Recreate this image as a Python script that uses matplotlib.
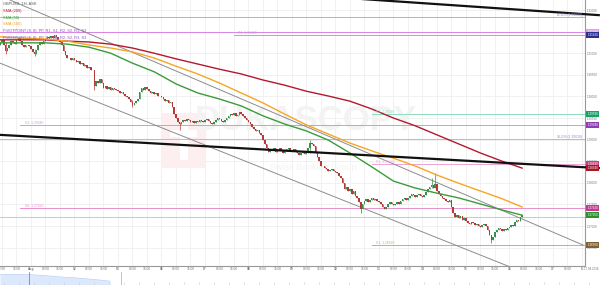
import matplotlib
matplotlib.use("Agg")
import matplotlib.pyplot as plt
import matplotlib.transforms as mtransforms
from matplotlib.patches import Rectangle
import numpy as np

# ---------------- data ----------------
start_bar = -17          # bar 0 = 01 Aug 00:00, 1 bar = 1 hour
first_open = 1.3120
closes = [
    # 31 Jul 07h-23h
    1.3125, 1.3130, 1.3118, 1.3105, 1.3112, 1.3120, 1.3128, 1.3125, 1.3122,
    1.3130, 1.3135, 1.3128, 1.3120, 1.3115, 1.3118, 1.3120, 1.3116,
    # 01 Aug
    1.3110, 1.3102, 1.3098, 1.3108, 1.3118, 1.3125, 1.3122, 1.3128, 1.3132, 1.3138,
    1.3135, 1.3140, 1.3136, 1.3142, 1.3138, 1.3130, 1.3125, 1.3118, 1.3105, 1.3095,
    1.3088, 1.3090, 1.3085, 1.3088,
    # 02 Aug
    1.3085, 1.3080, 1.3082, 1.3075, 1.3078, 1.3070, 1.3072, 1.3065, 1.3068, 1.3062,
    1.3060, 1.3025, 1.3035, 1.3030, 1.3040, 1.3030, 1.3020, 1.3025, 1.3018, 1.3022,
    1.3015, 1.3020, 1.3018, 1.3015,
    # 03 Aug
    1.3012, 1.3008, 1.3010, 1.3005, 1.3000, 1.2998, 1.2995, 1.2988, 1.2980, 1.2985,
    1.2990, 1.2995, 1.3010, 1.3020, 1.3015, 1.3022, 1.3018, 1.3012, 1.3008, 1.3010,
    1.3005, 1.3008, 1.3002, 1.3000,
    # 06 Aug
    1.2998, 1.2995, 1.2990, 1.2992, 1.2985, 1.2988, 1.2975, 1.2960, 1.2950, 1.2940,
    1.2935, 1.2940, 1.2945, 1.2942, 1.2948, 1.2945, 1.2940, 1.2943, 1.2938, 1.2942,
    1.2940, 1.2945, 1.2942, 1.2940,
    # 07 Aug
    1.2945, 1.2948, 1.2942, 1.2938, 1.2935, 1.2940, 1.2945, 1.2950, 1.2948, 1.2944,
    1.2940, 1.2945, 1.2950, 1.2955, 1.2960, 1.2958, 1.2962, 1.2955, 1.2958, 1.2965,
    1.2960, 1.2955, 1.2950, 1.2945,
    # 08 Aug
    1.2940, 1.2935, 1.2930, 1.2925, 1.2920, 1.2922, 1.2915, 1.2910, 1.2900, 1.2890,
    1.2880, 1.2872, 1.2878, 1.2875, 1.2880, 1.2872, 1.2876, 1.2880, 1.2875, 1.2870,
    1.2874, 1.2878, 1.2880, 1.2876,
    # 09 Aug
    1.2875, 1.2878, 1.2872, 1.2868, 1.2865, 1.2868, 1.2872, 1.2866, 1.2870, 1.2880,
    1.2892, 1.2890, 1.2885, 1.2870, 1.2860, 1.2850, 1.2840, 1.2838, 1.2835, 1.2832,
    1.2828, 1.2830, 1.2832, 1.2828,
    # 10 Aug
    1.2825, 1.2822, 1.2815, 1.2810, 1.2800, 1.2785, 1.2790, 1.2780, 1.2785, 1.2775,
    1.2780, 1.2770, 1.2765, 1.2755, 1.2740, 1.2750, 1.2758, 1.2762, 1.2755, 1.2760,
    1.2765, 1.2760, 1.2762, 1.2758,
    # 13 Aug
    1.2755, 1.2750, 1.2745, 1.2740, 1.2745, 1.2750, 1.2755, 1.2752, 1.2748, 1.2750,
    1.2755, 1.2752, 1.2758, 1.2762, 1.2765, 1.2760, 1.2765, 1.2770, 1.2775, 1.2772,
    1.2768, 1.2772, 1.2775, 1.2770,
    # 14 Aug
    1.2768, 1.2772, 1.2778, 1.2785, 1.2790, 1.2795, 1.2788, 1.2798, 1.2780, 1.2775,
    1.2770, 1.2765, 1.2762, 1.2758, 1.2755, 1.2760, 1.2745, 1.2730, 1.2720, 1.2725,
    1.2718, 1.2722, 1.2715, 1.2718,
    # 15 Aug
    1.2712, 1.2708, 1.2705, 1.2710, 1.2706, 1.2702, 1.2705, 1.2700, 1.2698, 1.2702,
    1.2705, 1.2700, 1.2690, 1.2680, 1.2668, 1.2675, 1.2685, 1.2690, 1.2695, 1.2692,
    1.2688, 1.2692, 1.2690, 1.2695,
    # 16 Aug
    1.2698, 1.2702, 1.2700, 1.2710, 1.2715, 1.2712, 1.2720, 1.2725,
]
# notable wicks: bar -> (high, low)
wick_extremes = {
    -14: (1.3125, 1.3098), 2: (1.3110, 1.3094), 35: (1.3062, 1.3015),
    56: (1.2992, 1.2975), 82: (1.2940, 1.2922), 154: (1.2900, 1.2868),
    182: (1.2755, 1.2730), 221: (1.2810, 1.2788), 223: (1.2822, 1.2788),
    254: (1.2680, 1.2660),
}

sma_bars = [-17, -5, 8, 20, 32, 44, 56, 68, 80, 92, 104, 116, 128, 140, 152,
            164, 176, 188, 200, 212, 224, 236, 248, 260, 271]
sma200 = [1.3131, 1.3131, 1.3131, 1.3128, 1.3126, 1.3121, 1.3112, 1.3100,
          1.3087, 1.3075, 1.3063, 1.3052, 1.3038, 1.3026, 1.3012, 1.3001,
          1.2989, 1.2971, 1.2950, 1.2932, 1.2911, 1.2890, 1.2869, 1.2850, 1.2834]
sma100 = [1.3138, 1.3135, 1.3133, 1.3128, 1.3119, 1.3112, 1.3103, 1.3089,
          1.3070, 1.3052, 1.3031, 1.3008, 1.2985, 1.2959, 1.2934, 1.2913,
          1.2892, 1.2874, 1.2857, 1.2839, 1.2818, 1.2799, 1.2781, 1.2763, 1.2744]
sma50 = [1.3124, 1.3124, 1.3124, 1.3121, 1.3114, 1.3100, 1.3077, 1.3057,
         1.3029, 1.3008, 1.2994, 1.2978, 1.2955, 1.2936, 1.2920, 1.2899,
         1.2869, 1.2837, 1.2804, 1.2788, 1.2776, 1.2765, 1.2751, 1.2737, 1.2725]

# trend lines: (bar, price) end points
thick_lines = [((-17.1, 1.2911), (313.9, 1.2834)),
               ((148.4, 1.32352), (313.9, 1.3188))]
channel_lines = [((-11.6, 1.32232), (304.6, 1.2656)),
                 ((-17.1, 1.3077), (305.7, 1.2536))]

# horizontal levels: price, start bar, line colour, tag colour, tag text, label text
levels = [
    (1.3184, -17.1, "#b9a9ea", None, None, None),
    (1.3149, -17.1, "#d884e4", "#dfa0ea", "1.31490", None),
    (1.3142, 112.0, "#a9a6e6", "#2c2f8f", "1.31420", "R1: 1.31420"),
    (1.2959, 188.0, "#8fdcc0", "#18a068", "1.29590", "R3: 1.29590"),
    (1.2934, -6.0, "#cf98df", "#8c3fb0", "1.29340", "S1: 1.29340"),
    (1.2901, -17.1, "#b9b3ec", None, None, None),
    (1.2843, 188.0, "#eea6d6", "#c8407e", "1.28430", "R1: 1.28430"),
    (1.2742, -6.0, "#e690cf", "#c23c8e", "1.27420", "S2: 1.27420"),
    (1.2720, -17.1, "#f7b7a0", None, None, None),
    (1.2656, 188.0, "#c2ad88", "#7e6233", "1.26560", "S1: 1.26560"),
]
fib_labels = [(1.3184, "61.80%(1.31840)"), (1.2901, "38.20%(1.29010)")]
extra_tags = [(1.2834, "#a8162c", "1.28340"), (1.2725, "#2f8f2f", "1.27250")]

day_names = ["Aug", "02", "03", "06", "07", "08", "09", "10", "13", "14", "15", "16", "17"]
y_ticks = [1.265, 1.270, 1.275, 1.280, 1.285, 1.290, 1.295, 1.300, 1.305,
           1.310, 1.315, 1.320]

legend_rows = [("GBPUSD, 1H, ASK", "#555555"), ("SMA (200)", "#b5172f"),
               ("SMA (50)", "#3a9b3a"), ("SMA (100)", "#f0a020")]
pivot_row = "PIVOTPOINT (8, 8): PP, R1, S1, R2, S2, R3, S3"
watermark = "DUKASCOPY"
watermark_sub = "Swiss Banking Group"

nav_x = [0, 15, 30, 45, 60, 75, 90, 110]
nav_top = [0.80, 0.82, 0.80, 0.72, 0.62, 0.55, 0.45, 0.30]

# ---------------- figure ----------------
plt.rcParams["font.family"] = ["Liberation Sans", "DejaVu Sans"]
W, H = 600, 285
fig = plt.figure(figsize=(6.0, 2.85), dpi=100)
ax = fig.add_axes([0, 1 - 266 / H, 585 / W, 266 / H])
ax.set_xlim(-17.1, 305.7)
ax.set_ylim(1.26074, 1.32232)

# grid
for b in range(-16, 306, 8):
    ax.axvline(b, color="#efefef", lw=0.6, zorder=0)
for t in y_ticks:
    ax.axhline(t, color="#efefef", lw=0.6, zorder=0)

# watermark (logo block + text)
ax.add_patch(Rectangle((72.3, 1.28342), 23.7, 0.01274, color="#fdeef0", zorder=0.5, lw=0))
ax.add_patch(Rectangle((76.7, 1.2906), 14.9, 0.00162, color="white", zorder=0.6, lw=0))
ax.add_patch(Rectangle((82.2, 1.28528), 4.4, 0.00926, color="white", zorder=0.6, lw=0))
ax.text(90.5, 1.2945, watermark, fontsize=25, fontweight="bold", color="#f3f3f3",
        ha="left", va="center", zorder=0.5)
ax.text(132, 1.2835, watermark_sub, fontsize=6.5, color="#f3f3f3",
        ha="left", va="center", zorder=0.5)

# levels
for price, sb, lc, tc, tt, lab in levels:
    ax.plot([sb, 305.7], [price, price], color=lc, lw=0.7, zorder=1)
    if lab:
        ax.text(sb + 2.5, price, lab, fontsize=2.4, color=lc, va="bottom",
                ha="left", zorder=6)
for price, lab in fib_labels:
    ax.text(304.5, price, lab, fontsize=2.4, color="#8f86d8", va="bottom",
            ha="right", zorder=6)

# channel and trend lines
for (x0, y0), (x1, y1) in channel_lines:
    ax.plot([x0, x1], [y0, y1], color="#8c8c8c", lw=0.7, zorder=2)
for (x0, y0), (x1, y1) in thick_lines:
    ax.plot([x0, x1], [y0, y1], color="#111111", lw=1.6, zorder=5,
            clip_on=False, solid_capstyle="butt")

# SMA lines
ax.plot(sma_bars, sma200, color="#b5172f", lw=1.0, zorder=4)
ax.plot(sma_bars, sma100, color="#f5a623", lw=1.0, zorder=4)
ax.plot(sma_bars, sma50, color="#3a9b3a", lw=1.0, zorder=4)

# candles
bars = np.arange(start_bar, start_bar + len(closes))
opens = [first_open] + closes[:-1]
highs = [max(o, c) for o, c in zip(opens, closes)]
lows = [min(o, c) for o, c in zip(opens, closes)]
for b, (h, l) in wick_extremes.items():
    k = b - start_bar
    highs[k] = max(highs[k], h)
    lows[k] = min(lows[k], l)
up_col, dn_col = "#3b8e4c", "#b23a3a"
cols = [up_col if c >= o else dn_col for o, c in zip(opens, closes)]
ax.vlines(bars, lows, highs, colors=cols, lw=0.5, zorder=3)
bottoms = [min(o, c) for o, c in zip(opens, closes)]
heights = [max(abs(c - o), 0.00012) for o, c in zip(opens, closes)]
ax.bar(bars, heights, bottom=bottoms, width=0.85, color=cols, lw=0, zorder=3)

# axes styling
for s in ["top", "left"]:
    ax.spines[s].set_visible(False)
ax.spines["right"].set_color("#999999")
ax.spines["right"].set_linewidth(0.8)
ax.spines["bottom"].set_color("#999999")
ax.spines["bottom"].set_linewidth(0.8)
ax.yaxis.tick_right()
ax.set_yticks(y_ticks)
ax.set_yticklabels(["%.5f" % t for t in y_ticks])
ax.tick_params(axis="y", length=0, pad=1.5, labelsize=2.2, labelcolor="#777777")

xt, xl, xb = [], [], []
for d, name in zip(range(-1, len(day_names)), [None] + day_names):
    base = d * 24
    if name is not None:
        xt.append(base); xl.append(name); xb.append(True)
    for hh in (8, 16):
        if base + hh <= 300:
            xt.append(base + hh); xl.append("%02d:00" % hh); xb.append(False)
ax.set_xticks(xt)
ax.set_xticklabels(xl)
for lbl, bold in zip(ax.get_xticklabels(), xb):
    if bold:
        lbl.set_fontweight("bold")
        lbl.set_color("#444444")
ax.tick_params(axis="x", length=0, pad=1.0, labelsize=2.3, labelcolor="#777777")

# right-hand price tags
tr = mtransforms.blended_transform_factory(ax.transAxes, ax.transData)
def tag(price, color, text):
    ax.text(1.004, price, text, transform=tr, fontsize=2.2, color="white",
            va="center", ha="left", clip_on=False, zorder=10,
            bbox=dict(boxstyle="square,pad=0.35", fc=color, ec="none"))
for price, sb, lc, tc, tt, lab in levels:
    if tc:
        tag(price, tc, tt)
for price, c, t in extra_tags:
    tag(price, c, t)

# legend texts
for k, (txt, c) in enumerate(legend_rows):
    fig.text(3 / W, 1 - (4 + 6.8 * k) / H, txt, fontsize=2.8, color=c,
             va="center", ha="left")
for k in range(2):
    fig.text(3 / W, 1 - (31 + 6.8 * k) / H, pivot_row, fontsize=2.8,
             color="#8a4fc0", va="center", ha="left")

fig.text(581 / W, 1 - 269 / H, "16:17.08.2018", fontsize=2.1, color="#777777",
         va="center", ha="left")

# navigator strip
nav = fig.add_axes([0, 0, 1, 13 / H])
nav.set_xlim(0, 600)
nav.set_ylim(0, 1)
nav.axis("off")
nav.fill_between(nav_x, 0, nav_top, color="#dce8fb", lw=0)
nav.plot(nav_x, nav_top, color="#b5cdf3", lw=0.5)
nav.axvline(29, color="#888888", lw=0.6)
nav.axvline(121, color="#bbbbbb", lw=0.6)
for xx in range(4, 600, 15):
    nav.plot([xx, xx], [0.0, 0.25], color="#cccccc", lw=0.4)

fig.savefig("out.png", dpi=100, facecolor="white")
